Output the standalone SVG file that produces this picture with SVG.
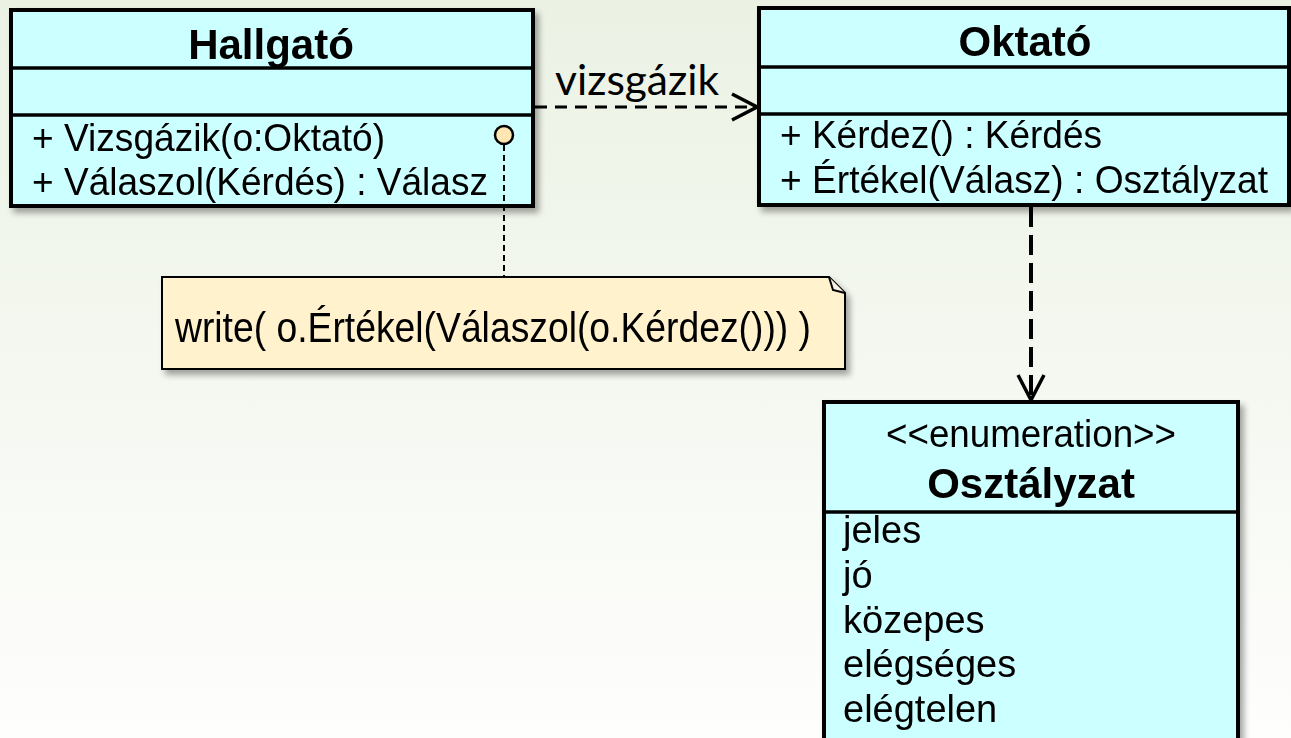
<svg xmlns="http://www.w3.org/2000/svg" width="1291" height="738" viewBox="0 0 1291 738">
<defs>
<linearGradient id="bg" x1="0" y1="0" x2="0" y2="1">
<stop offset="0" stop-color="#ebf2e4"/>
<stop offset="1" stop-color="#fefefd"/>
</linearGradient>
<filter id="sh" x="-5%" y="-5%" width="115%" height="125%">
<feDropShadow dx="4" dy="5" stdDeviation="3" flood-color="#000" flood-opacity="0.35"/>
</filter>
<marker id="open" viewBox="0 0 30 30" refX="27" refY="15" markerWidth="30" markerHeight="30" markerUnits="userSpaceOnUse" orient="auto">
<path d="M2,2 L27,15 L2,28" fill="none" stroke="#000" stroke-width="3.5"/>
</marker>
</defs>
<style>
.box{fill:#ccffff;stroke:#000;stroke-width:4}
.div{stroke:#000;stroke-width:3.5}
.t{font-family:"Liberation Sans",Arial,sans-serif;font-size:38px;fill:#000}
.tb{font-family:"Liberation Sans",Arial,sans-serif;font-size:42px;font-weight:bold;fill:#000}
.note{fill:#fff2cc;stroke:#000;stroke-width:2}
</style>
<rect x="0" y="0" width="1291" height="738" fill="url(#bg)"/>

<g id="hallgato" filter="url(#sh)">
<rect class="box" x="11" y="10" width="522" height="196"/>
<line class="div" x1="11" y1="68" x2="533" y2="68"/>
<line class="div" x1="11" y1="115" x2="533" y2="115"/>
<text class="tb" x="271" y="59" text-anchor="middle">Hallgató</text>
<text class="t" x="32" y="151" textLength="353" lengthAdjust="spacingAndGlyphs">+ Vizsgázik(o:Oktató)</text>
<text class="t" x="32" y="195" textLength="456" lengthAdjust="spacingAndGlyphs">+ Válaszol(Kérdés) : Válasz</text>
</g>

<g id="oktato" filter="url(#sh)">
<rect class="box" x="759" y="8" width="530" height="197"/>
<line class="div" x1="759" y1="67" x2="1289" y2="67"/>
<line class="div" x1="759" y1="114" x2="1289" y2="114"/>
<text class="tb" x="1025" y="56" text-anchor="middle">Oktató</text>
<text class="t" x="780" y="148" textLength="322" lengthAdjust="spacingAndGlyphs">+ Kérdez() : Kérdés</text>
<text class="t" x="780" y="193" textLength="488" lengthAdjust="spacingAndGlyphs">+ Értékel(Válasz) : Osztályzat</text>
</g>

<g id="note" filter="url(#sh)">
<path class="note" d="M162,277 L829,277 L845,293 L845,369 L162,369 Z"/>
<path d="M829,277 L833,290 L845,293" fill="#f5f0e0" stroke="#000" stroke-width="2"/>
<text x="175" y="342" font-family="'Liberation Sans',Arial,sans-serif" font-size="42" textLength="636" lengthAdjust="spacingAndGlyphs">write( o.Értékel(Válaszol(o.Kérdez())) )</text>
</g>

<g id="osztalyzat" filter="url(#sh)">
<rect class="box" x="824" y="402" width="414" height="345"/>
<line class="div" x1="824" y1="512" x2="1238" y2="512"/>
<text class="t" x="1031" y="447" text-anchor="middle" textLength="290" lengthAdjust="spacingAndGlyphs">&lt;&lt;enumeration&gt;&gt;</text>
<text class="tb" x="1031" y="498" text-anchor="middle">Osztályzat</text>
<text class="t" x="843" y="543">jeles</text>
<text class="t" x="843" y="588">jó</text>
<text class="t" x="843" y="633">közepes</text>
<text class="t" x="843" y="677">elégséges</text>
<text class="t" x="843" y="722">elégtelen</text>
</g>

<g id="connectors">
<line x1="535" y1="107" x2="757" y2="107" stroke="#000" stroke-width="3" stroke-dasharray="12,8" marker-end="url(#open)"/>
<text x="555" y="95" font-family="Lato,'Open Sans',sans-serif" font-size="42" textLength="164" lengthAdjust="spacingAndGlyphs">vizsgázik</text>
<line x1="1031" y1="207" x2="1031" y2="400" stroke="#000" stroke-width="4" stroke-dasharray="20,8" marker-end="url(#open)"/>
<line x1="504" y1="145" x2="504" y2="277" stroke="#000" stroke-width="2" stroke-dasharray="6,4"/>
<circle cx="504" cy="135" r="9" fill="#ffe6b3" stroke="#000" stroke-width="2.5"/>
</g>
</svg>
